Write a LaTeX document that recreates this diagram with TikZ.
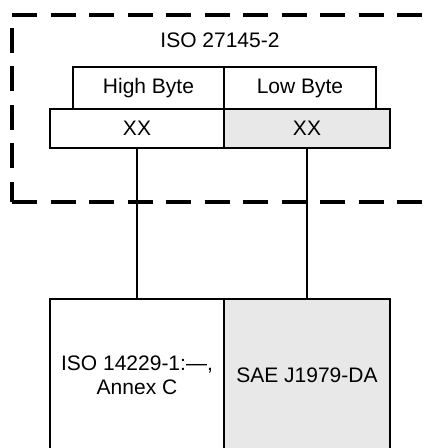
\documentclass[tikz,border=0pt]{standalone}
\usepackage{fontspec}
\setmainfont{Liberation Sans}
\usepackage{xcolor}
\definecolor{lichtgrijs}{HTML}{E8E8E8}

\begin{document}
\begin{tikzpicture}[x=1pt, y=1pt,
    vak/.style={draw, line width=2pt, inner sep=0pt, outer sep=0pt, align=center,
        font=\fontsize{21}{24}\selectfont},
    kader/.style={line width=3.5pt, dash pattern=on 25pt off 13.5pt},
    lijn/.style={line width=1.3pt}]
    \useasboundingbox (0,0) rectangle (425,448);
    % Gestreept kader
    \coordinate (kaderlb) at (12,433);
    \coordinate (kaderlo) at (12,246);
    \coordinate (kaderrb) at (432,433);
    \coordinate (kaderro) at (432,246);
    \draw[kader] (kaderlb) -- (kaderrb);
    \draw[kader, dash phase=5pt] (kaderlo) -- (kaderlb);
    \draw[kader] (kaderlo) -- (kaderro);
    \node[font=\fontsize{21}{24}\selectfont] (titel) at (220,408) {ISO 27145-2};
    % Bytes
    \node[vak, minimum width=151pt, minimum height=42pt] (hoog) at (148.5,360) {High Byte};
    \node[vak, minimum width=152pt, minimum height=42pt] (laag) at (300,360) {Low Byte};
    \node[vak, minimum width=174pt, minimum height=39pt] (xxhoog) at (137,319.5) {XX};
    \node[vak, fill=lichtgrijs, minimum width=166pt, minimum height=39pt] (xxlaag) at (307,319.5) {XX};
    % Normen onderaan
    \node[vak, minimum width=174pt, minimum height=152pt] (isonorm) at (137,73) {ISO 14229-1:—,\\Annex C};
    \node[vak, fill=lichtgrijs, minimum width=166pt, minimum height=152pt] (saenorm) at (307,73) {SAE J1979-DA};
    % Verbindingen
    \draw[lijn] (xxhoog.south) -- (isonorm.north);
    \draw[lijn] (xxlaag.south) -- (saenorm.north);
\end{tikzpicture}
\end{document}
